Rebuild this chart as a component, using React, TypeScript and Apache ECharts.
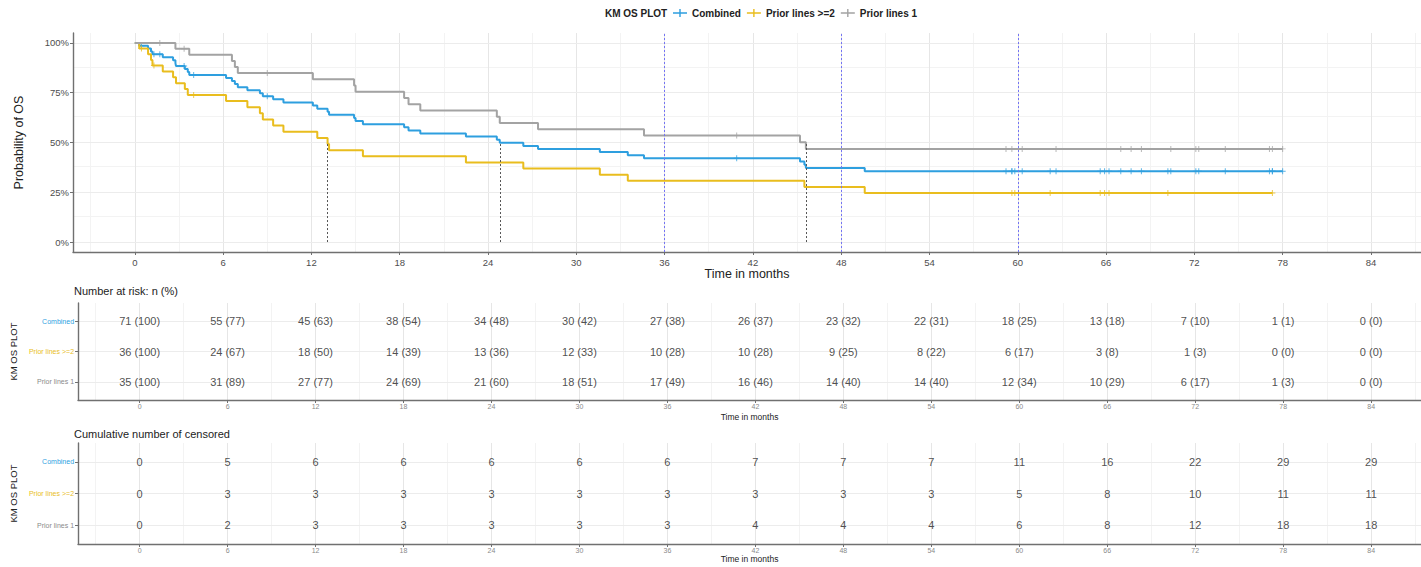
import React, { useEffect, useRef } from "react";
import * as echarts from "echarts";

// ---------- data ----------
const groups = ["Combined", "Prior lines >=2", "Prior lines 1"];
const groupColors = ["#2E9FDF", "#E9BD1E", "#A3A3A3"];

// Kaplan-Meier step estimates (time in months, survival probability)
const combinedTimes = [0, 0.3, 0.9, 1.1, 1.2, 1.9, 2.6, 2.76, 2.8, 3.4, 3.6, 3.7, 6.2, 6.6, 6.8, 7.0, 7.65, 8.5, 8.7, 9.4, 10.1, 12.1, 12.4, 13.1, 13.2, 14.9, 15.0, 15.5, 18.3, 18.6, 19.4, 22.5, 24.6, 24.8, 26.4, 27.4, 31.6, 33.5, 34.6, 45.2, 45.5, 45.6, 49.6, 78.0];
const combinedSurv = [1, 0.9859, 0.9716, 0.9573, 0.9431, 0.9283, 0.9136, 0.8989, 0.8841, 0.8691, 0.8541, 0.8392, 0.8239, 0.8086, 0.7934, 0.7781, 0.7629, 0.7476, 0.7324, 0.7168, 0.7012, 0.6856, 0.67, 0.6544, 0.6389, 0.6233, 0.6077, 0.5921, 0.5765, 0.5609, 0.5454, 0.5298, 0.5142, 0.4986, 0.483, 0.4675, 0.4519, 0.4363, 0.4207, 0.4045, 0.3884, 0.3722, 0.356, 0.356];

const plus2Times = [0, 0.3, 0.9, 1.1, 1.2, 1.9, 2.6, 2.8, 3.4, 3.6, 6.2, 7.65, 8.5, 8.7, 9.4, 10.1, 12.4, 13.1, 13.2, 15.5, 22.5, 26.4, 31.6, 33.5, 45.5, 49.6, 77.3];
const plus2Surv = [1, 0.9722, 0.9436, 0.915, 0.8864, 0.8569, 0.8273, 0.7978, 0.7683, 0.7387, 0.7079, 0.6771, 0.6464, 0.6156, 0.5848, 0.554, 0.5232, 0.4925, 0.4617, 0.4309, 0.4001, 0.3693, 0.3386, 0.3078, 0.277, 0.2462, 0.2462];

const line1Times = [0, 2.76, 3.7, 6.6, 6.8, 7.0, 12.1, 14.9, 15.0, 18.3, 18.6, 19.4, 24.6, 24.8, 27.4, 34.6, 45.2, 45.6, 78.0];
const line1Surv = [1, 0.9706, 0.9403, 0.9099, 0.8796, 0.8493, 0.8178, 0.7864, 0.7549, 0.7235, 0.692, 0.6605, 0.6291, 0.5976, 0.5662, 0.5347, 0.5013, 0.4679, 0.4679];

// censoring times
const combinedCensor = [0.45, 1.3, 1.7, 3.35, 4.0, 9.0, 40.9, 59.2, 59.6, 59.6, 59.8, 60.3, 62.2, 62.6, 65.6, 65.9, 66.2, 67.0, 67.7, 68.4, 70.2, 70.4, 72.1, 72.3, 74.1, 77.1, 77.3, 77.3, 78.0];
const plus2Censor = [0.45, 1.3, 4.0, 59.6, 59.8, 62.2, 65.6, 65.9, 66.2, 70.2, 77.3];
const line1Censor = [1.7, 3.35, 9.0, 40.9, 59.2, 59.6, 60.3, 62.6, 67.0, 67.7, 68.4, 70.4, 72.1, 72.3, 74.1, 77.1, 77.3, 78.0];

// median survival times (Combined, >=2, 1)
const medianTimes = [24.8, 13.1, 45.6];
// reference lines
const refLines = [36, 48, 60];

// tick values
const xTicks = [0, 6, 12, 18, 24, 30, 36, 42, 48, 54, 60, 66, 72, 78, 84];
const xMinor = [-3, 3, 9, 15, 21, 27, 33, 39, 45, 51, 57, 63, 69, 75, 81, 87];
const yTicks = [0, 0.25, 0.5, 0.75, 1];
const yMinor = [0.125, 0.375, 0.625, 0.875];

// risk table
const riskCombinedN = [71, 55, 45, 38, 34, 30, 27, 26, 23, 22, 18, 13, 7, 1, 0];
const riskCombinedPct = [100, 77, 63, 54, 48, 42, 38, 37, 32, 31, 25, 18, 10, 1, 0];
const riskPlus2N = [36, 24, 18, 14, 13, 12, 10, 10, 9, 8, 6, 3, 1, 0, 0];
const riskPlus2Pct = [100, 67, 50, 39, 36, 33, 28, 28, 25, 22, 17, 8, 3, 0, 0];
const riskLine1N = [35, 31, 27, 24, 21, 18, 17, 16, 14, 14, 12, 10, 6, 1, 0];
const riskLine1Pct = [100, 89, 77, 69, 60, 51, 49, 46, 40, 40, 34, 29, 17, 3, 0];

// cumulative censored
const censCombined = [0, 5, 6, 6, 6, 6, 6, 7, 7, 7, 11, 16, 22, 29, 29];
const censPlus2 = [0, 3, 3, 3, 3, 3, 3, 3, 3, 3, 5, 8, 10, 11, 11];
const censLine1 = [0, 2, 3, 3, 3, 3, 3, 4, 4, 4, 6, 8, 12, 18, 18];

// ---------- helpers ----------
const X_MIN = -4.2;
const X_MAX = 87.4;
const FONT = "'Liberation Sans', Arial, Helvetica, sans-serif";
const AXIS_COLOR = "#707070";

function survAt(times: number[], surv: number[], t: number) {
  let v = surv[0];
  for (let i = 0; i < times.length; i++) {
    if (times[i] <= t) v = surv[i];
  }
  return v;
}

const curveTimes = [combinedTimes, plus2Times, line1Times];
const curveSurv = [combinedSurv, plus2Surv, line1Surv];
const curveCensor = [combinedCensor, plus2Censor, line1Censor];

const riskN = [riskCombinedN, riskPlus2N, riskLine1N];
const riskPct = [riskCombinedPct, riskPlus2Pct, riskLine1Pct];
const censCum = [censCombined, censPlus2, censLine1];

const plusIcon = "path://M6.3,2h1.4v8h-1.4z M0,5.3h14v1.4h-14z";
const censorSymbol = "path://M4.2,0h1.6v10h-1.6z M0,4.2h10v1.6h-10z";

function gridSeries(idx: number, xMaj: number[], xMin: number[], yMaj: number[], yMin: number[]) {
  const data: any[] = [];
  xMin.forEach((v) => data.push({ xAxis: v, lineStyle: { color: "#f3f3f3", width: 1, type: "solid" } }));
  yMin.forEach((v) => data.push({ yAxis: v, lineStyle: { color: "#f3f3f3", width: 1, type: "solid" } }));
  xMaj.forEach((v) => data.push({ xAxis: v, lineStyle: { color: "#e6e6e6", width: 1, type: "solid" } }));
  yMaj.forEach((v) => data.push({ yAxis: v, lineStyle: { color: "#ececec", width: 1, type: "solid" } }));
  return {
    type: "line",
    xAxisIndex: idx,
    yAxisIndex: idx,
    data: [],
    z: 0,
    silent: true,
    markLine: {
      z: 0,
      silent: true,
      symbol: "none",
      label: { show: false },
      emphasis: { disabled: true },
      data,
    },
  };
}

function xAxis(idx: number, labelSize: number, labelColor: string, nameSize: number, nameGap: number, margin: number) {
  return {
    type: "value",
    gridIndex: idx,
    min: X_MIN,
    max: X_MAX,
    axisLine: { show: true, onZero: false, lineStyle: { color: AXIS_COLOR, width: 1.4 } },
    axisTick: { show: true, customValues: xTicks, length: 3, lineStyle: { color: AXIS_COLOR } },
    axisLabel: { show: true, customValues: xTicks, fontSize: labelSize, color: labelColor, margin },
    splitLine: { show: false },
    name: "Time in months",
    nameLocation: "middle",
    nameGap,
    nameTextStyle: { fontSize: nameSize, color: "#222" },
  };
}

function tableYAxis(idx: number) {
  return {
    type: "value",
    gridIndex: idx,
    inverse: true,
    min: 0.4,
    max: 3.6,
    axisLine: { show: true, onZero: false, lineStyle: { color: AXIS_COLOR, width: 1.4 } },
    axisTick: { show: true, customValues: [1, 2, 3], length: 3, lineStyle: { color: AXIS_COLOR } },
    axisLabel: {
      show: true,
      customValues: [1, 2, 3],
      margin: 4,
      formatter: (v: number) => `{g${v - 1}|${groups[v - 1]}}`,
      rich: {
        g0: { color: groupColors[0], fontSize: 7 },
        g1: { color: groupColors[1], fontSize: 7 },
        g2: { color: "#8a8a8a", fontSize: 7 },
      },
    },
    splitLine: { show: false },
    name: "KM OS PLOT",
    nameLocation: "middle",
    nameGap: 47,
    nameTextStyle: { fontSize: 9.5, color: "#222" },
  };
}

function buildOption() {
  const series: any[] = [];

  // grid lines
  series.push(gridSeries(0, xTicks, xMinor, yTicks, yMinor));
  series.push(gridSeries(1, xTicks, xMinor, [1, 2, 3], []));
  series.push(gridSeries(2, xTicks, xMinor, [1, 2, 3], []));

  // reference lines and medians
  series.push({
    type: "line",
    xAxisIndex: 0,
    yAxisIndex: 0,
    data: [],
    z: 6,
    silent: true,
    markLine: {
      z: 6,
      silent: true,
      symbol: "none",
      label: { show: false },
      emphasis: { disabled: true },
      data: [
        ...refLines.map((v) => ({ xAxis: v, lineStyle: { color: "#7474f4", width: 1, type: [2, 2] } })),
        ...medianTimes.map((v) => [
          { coord: [v, 0], lineStyle: { color: "#555", width: 1, type: [2, 2] } },
          { coord: [v, 0.5] },
        ]),
      ],
    },
  });

  // curves
  groups.forEach((g, i) => {
    series.push({
      name: g,
      type: "line",
      xAxisIndex: 0,
      yAxisIndex: 0,
      step: "end",
      showSymbol: false,
      symbol: "none",
      z: 3 + i,
      lineStyle: { color: groupColors[i], width: 2 },
      itemStyle: { color: groupColors[i] },
      data: curveTimes[i].map((t, k) => [t, curveSurv[i][k]]),
    });
    series.push({
      name: g,
      type: "scatter",
      xAxisIndex: 0,
      yAxisIndex: 0,
      symbol: censorSymbol,
      symbolSize: 6,
      z: 3 + i,
      itemStyle: { color: groupColors[i] },
      data: curveCensor[i].map((t) => [t, survAt(curveTimes[i], curveSurv[i], t)]),
    });
  });

  // risk table text
  groups.forEach((g, i) => {
    series.push({
      type: "scatter",
      xAxisIndex: 1,
      yAxisIndex: 1,
      symbolSize: 1,
      z: 8,
      itemStyle: { color: "rgba(0,0,0,0)" },
      label: {
        show: true,
        position: "inside",
        fontSize: 11,
        color: "#222",
        formatter: (p: any) => p.value[2],
      },
      data: xTicks.map((t, k) => [t, i + 1, `${riskN[i][k]} (${riskPct[i][k]})`]),
    });
    series.push({
      type: "scatter",
      xAxisIndex: 2,
      yAxisIndex: 2,
      symbolSize: 1,
      z: 8,
      itemStyle: { color: "rgba(0,0,0,0)" },
      label: {
        show: true,
        position: "inside",
        fontSize: 11,
        color: "#222",
        formatter: (p: any) => p.value[2],
      },
      data: xTicks.map((t, k) => [t, i + 1, `${censCum[i][k]}`]),
    });
  });

  return {
    animation: false,
    backgroundColor: "#ffffff",
    textStyle: { fontFamily: FONT },
    legend: {
      left: 668,
      top: 3,
      itemWidth: 14,
      itemHeight: 12,
      itemGap: 6,
      selectedMode: false,
      textStyle: { fontSize: 10, fontWeight: "bold", color: "#222", fontFamily: FONT },
      data: groups.map((g) => ({ name: g, icon: plusIcon })),
    },
    graphic: [
      {
        type: "text",
        left: 605,
        top: 8,
        style: { text: "KM OS PLOT", fontSize: 10, fontWeight: "bold", fill: "#222", fontFamily: FONT },
      },
      {
        type: "text",
        left: 74,
        top: 285,
        style: { text: "Number at risk: n (%)", fontSize: 11, fill: "#222", fontFamily: FONT },
      },
      {
        type: "text",
        left: 74,
        top: 428,
        style: { text: "Cumulative number of censored", fontSize: 11, fill: "#222", fontFamily: FONT },
      },
    ],
    grid: [
      { left: 73, top: 33, width: 1348, height: 219 },
      { left: 73, top: 303, width: 1348, height: 97 },
      { left: 73, top: 443, width: 1348, height: 101 },
    ],
    xAxis: [
      xAxis(0, 9.5, "#4d4d4d", 12.5, 13.5, 5),
      xAxis(1, 7, "#8a8a8a", 8.5, 12, 3),
      xAxis(2, 7, "#8a8a8a", 8.5, 10.5, 3),
    ],
    yAxis: [
      {
        type: "value",
        gridIndex: 0,
        min: -0.05,
        max: 1.05,
        axisLine: { show: true, onZero: false, lineStyle: { color: AXIS_COLOR, width: 1.4 } },
        axisTick: { show: true, customValues: yTicks, length: 3, lineStyle: { color: AXIS_COLOR } },
        axisLabel: {
          show: true,
          customValues: yTicks,
          fontSize: 9.5,
          color: "#4d4d4d",
          margin: 4,
          formatter: (v: number) => `${Math.round(v * 100)}%`,
        },
        splitLine: { show: false },
        name: "Probability of OS",
        nameLocation: "middle",
        nameGap: 48,
        nameTextStyle: { fontSize: 12.5, color: "#222" },
      },
      tableYAxis(1),
      tableYAxis(2),
    ],
    series,
  };
}

export default function App() {
  const ref = useRef<HTMLDivElement>(null);
  useEffect(() => {
    if (!ref.current) return;
    const chart = echarts.init(ref.current, undefined, { renderer: "svg" });
    chart.setOption(buildOption() as any);
    return () => chart.dispose();
  }, []);
  return (
    <div
      ref={ref}
      style={{ position: "fixed", left: 0, top: 0, width: 1421, height: 567, background: "#fff" }}
    />
  );
}
